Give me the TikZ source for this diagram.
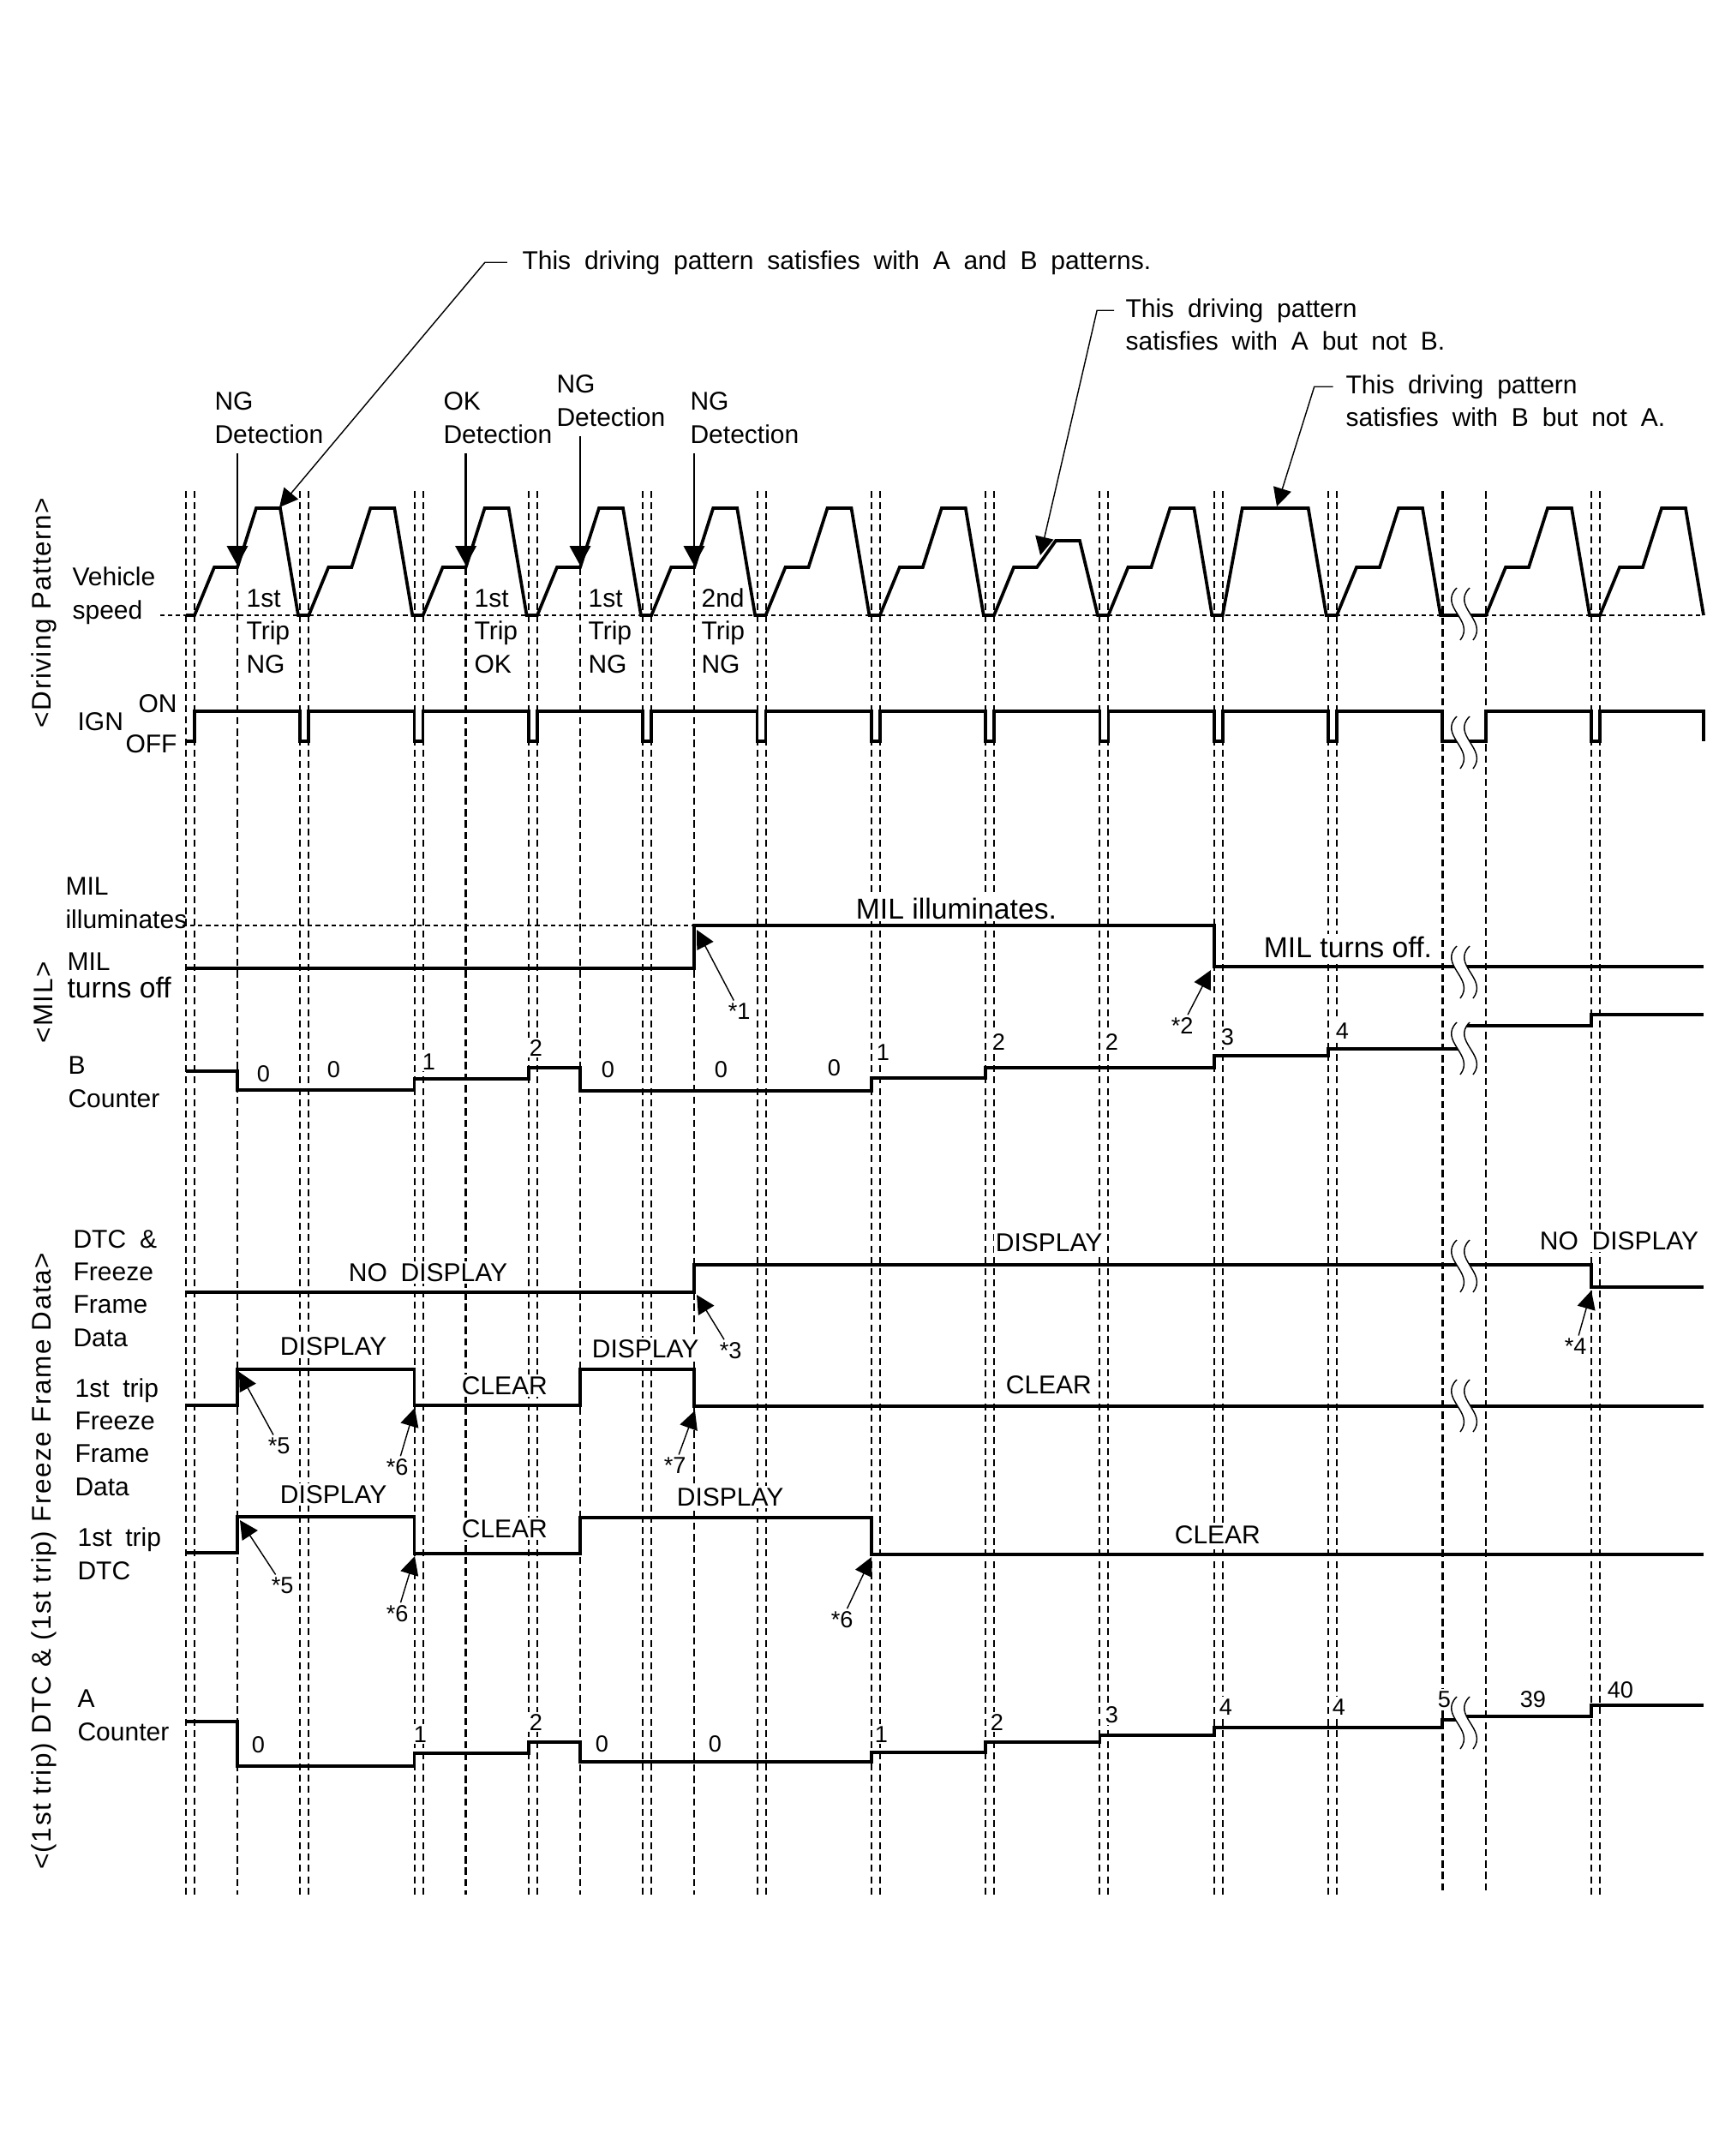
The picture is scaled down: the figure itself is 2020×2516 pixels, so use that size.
\documentclass[tikz,border=0pt]{standalone}
\usepackage{fontspec}
\setmainfont{Liberation Sans}[WordSpace=1.9]
\newfontfamily\milfont{Liberation Sans}
\newfontfamily\grpfont{Liberation Sans}[LetterSpace=5]
\usetikzlibrary{arrows.meta}

\tikzset{
  sig/.style={line width=1.3pt},
  gridline/.style={line width=0.7pt,dash pattern=on 2.8pt off 1.8pt},
  markline/.style={line width=0.85pt,dash pattern=on 3pt off 1.7pt},
  refline/.style={line width=0.6pt,dash pattern=on 1.8pt off 1.4pt},
  lab/.style={anchor=base west,inner sep=0pt,align=left,font=\fontsize{10.5}{13.4}\selectfont},
  tag/.style={lab,inner sep=0.8pt,fill=white},
  num/.style={tag,font=\fontsize{9.5}{11}\selectfont},
  biglab/.style={tag,font=\milfont\fontsize{11.8}{13}\selectfont},
  grp/.style={rotate=90,inner sep=0pt,font=\grpfont\fontsize{11}{12}\selectfont},
  pointer/.style={line width=0.5pt,-{Triangle[length=7.5pt,width=7.5pt]}},
  detect/.style={line width=0.9pt,shorten <=4pt,-{Triangle[length=8pt,width=8.5pt]}},
}

% double wavy break, #1 = left x, #2 = top y
\newcommand\breakmark[2]{%
  \fill[white] (#1,#2) .. controls (#1-22,#2+22) and (#1+22,#2+38) .. (#1+4,#2+61)
    -- (#1+19,#2+61) .. controls (#1+37,#2+38) and (#1-7,#2+22) .. (#1+15,#2) -- cycle;
  \draw[line width=0.5pt] (#1,#2) .. controls (#1-22,#2+22) and (#1+22,#2+38) .. (#1+4,#2+61);
  \draw[line width=0.5pt] (#1+15,#2) .. controls (#1-7,#2+22) and (#1+37,#2+38) .. (#1+19,#2+61);
}

\begin{document}
\begin{tikzpicture}[x=0.35pt,y=-0.35pt]
\useasboundingbox (0,0) rectangle (2020,2516);

% grid of trips
\foreach \k in {0,...,10}{
  \pgfmathsetmacro{\xl}{217+133.3*\k}
  \draw[gridline] (\xl,573) -- (\xl,2211);
  \draw[gridline] (\xl+10,573) -- (\xl+10,2211);
}
\draw[gridline] (1857,573) -- (1857,2211);
\draw[gridline] (1867,573) -- (1867,2211);
\foreach \x in {277,543.6,677,810} \draw[markline] (\x,662) -- (\x,2211);
\foreach \x in {1683.3,1734} \draw[markline] (\x,573) -- (\x,2211);
\draw[refline] (187,718) -- (1988,718);
\draw[refline] (213,1080) -- (810,1080);

% group titles
\node[grp] (g1) at (51,715) {<Driving Pattern>};
\node[grp] (g2) at (51,1170) {<MIL>};
\node[grp] (g3) at (51,1822) {<(1st trip) DTC \& (1st trip) Freeze Frame Data>};

% notes on the driving pattern
\node[lab] (n1) at (609,314) {This driving pattern satisfies with A and B patterns.};
\node[lab] (n2) at (1313,370) {This driving pattern};
\node[lab] (n2b) at (1313,408) {satisfies with A but not B.};
\node[lab] (n3) at (1570,459) {This driving pattern};
\node[lab] (n3b) at (1570,497) {satisfies with B but not A.};
\coordinate (p1) at (326,592);
\coordinate (p2) at (1214,648);
\coordinate (p3) at (1490,591);

% (base of a two-line node = its last line)
\node[lab] (d1) at (250,517) {NG\\Detection};
\node[lab] (d2) at (517,517) {OK\\Detection};
\node[lab] (d3) at (649,497) {NG\\Detection};
\node[lab] (d4) at (805,517) {NG\\Detection};
\coordinate (t1) at (277,660);
\coordinate (t2) at (543.6,660);
\coordinate (t3) at (677,660);
\coordinate (t4) at (810,660);

\node[lab] at (287,785) {1st\\Trip\\NG};
\node[lab] at (553,785) {1st\\Trip\\OK};
\node[lab] at (686,785) {1st\\Trip\\NG};
\node[lab] at (818,785) {2nd\\Trip\\NG};

% row labels
\node[lab] (vs) at (84,722) {Vehicle\\speed};
\node[lab] (on) at (161,831) {ON};
\node[lab] (ign) at (90,852) {IGN};
\node[lab] (off) at (146,878) {OFF};
\node[lab] (mil1) at (76,1083) {MIL\\illuminates};
\node[lab] (mil2) at (78,1132) {MIL};
\node[lab,font=\milfont\fontsize{11.8}{13}\selectfont] (mil3) at (78,1164) {turns off};
\node[lab] (bc) at (79,1292) {B\\Counter};
\node[lab] (dtc) at (85,1571) {DTC \&\\Freeze\\Frame\\Data};
\node[lab] (ffd) at (87,1745) {1st trip\\Freeze\\Frame\\Data};
\node[lab] (fdtc) at (90,1843) {1st trip\\DTC};
\node[lab] (ac) at (90,2031) {A\\Counter};

% texts on the signals
\node[biglab] at (996,1072) {MIL illuminates.};
\node[biglab] at (1472,1117) {MIL turns off.};
\node[tag] at (404,1495) {NO DISPLAY};
\node[tag] at (1159,1460) {DISPLAY};
\node[tag] at (1794,1458) {NO DISPLAY};
\node[tag] at (324,1581) {DISPLAY};
\node[tag] at (536,1627) {CLEAR};
\node[tag] at (688,1584) {DISPLAY};
\node[tag] at (1171,1626) {CLEAR};
\node[tag] at (324,1754) {DISPLAY};
\node[tag] at (536,1794) {CLEAR};
\node[tag] at (787,1757) {DISPLAY};
\node[tag] at (1368,1801) {CLEAR};

\foreach \x/\y/\v in {297/1262/0, 379/1257/0, 490/1248/1, 615/1232/2, 699/1257/0,
  831/1257/0, 963/1255/0, 1020/1237/1, 1155/1225/2, 1287/1225/2, 1422/1219/3, 1556/1212/4}
  {\node[num] at (\x,\y) {\v};}
\foreach \x/\y/\v in {291/2045/0, 480/2033/1, 615/2019/2, 692/2044/0, 824/2044/0,
  1018/2033/1, 1153/2019/2, 1287/2010/3, 1420/2001/4, 1552/2001/4, 1675/1992/5,
  1771/1992/39, 1873/1981/40}
  {\node[num] at (\x,\y) {\v};}

% vehicle speed
\draw[sig] (217,718) -- (227,718)
  \foreach \x/\t/\n in {227/593/360.3, 360.3/593/493.6, 493.6/593/627, 627/593/760.2,
    760.2/593/893.5, 893.5/593/1026.8, 1026.8/593/1160, 1160/631/1293.4, 1293.4/593/1426.7}
  { -- (\x+23,662) -- (\x+50,662) -- (\x+72,\t) -- (\x+100,\t) -- (\x+121,718) -- (\n,718) }
  -- (1449.7,593) -- (1526.7,593) -- (1547.7,718) -- (1560,718)
  \foreach \x/\n in {1560/1734, 1734/1867, 1867/1988}
  { -- (\x+23,662) -- (\x+50,662) -- (\x+72,593) -- (\x+100,593) -- (\x+121,718) -- (\n,718) };

% ignition
\draw[sig] (217,865) -- (227,865) -- (227,830)
  \foreach \k in {1,...,10}
  { -- ({217+133.3*\k},830) -- ({217+133.3*\k},865) -- ({227+133.3*\k},865) -- ({227+133.3*\k},830) }
  -- (1683.3,830) -- (1683.3,865) -- (1734,865) -- (1734,830) -- (1857,830) -- (1857,865)
  -- (1867,865) -- (1867,830) -- (1988,830) -- (1988,865);

% MIL and B counter
\draw[sig] (217,1130) -- (810,1130) -- (810,1080) -- (1416.7,1080) -- (1416.7,1128) -- (1988,1128);
\draw[sig] (217,1250) -- (277,1250) -- (277,1272) -- (483.6,1272) -- (483.6,1259) -- (617,1259)
  -- (617,1246) -- (677,1246) -- (677,1273) -- (1016.8,1273) -- (1016.8,1258) -- (1150,1258)
  -- (1150,1246) -- (1416.7,1246) -- (1416.7,1232) -- (1550,1232) -- (1550,1224) -- (1706,1224);
\draw[sig] (1708,1197) -- (1857,1197) -- (1857,1184) -- (1988,1184);

% DTC, freeze frame data, A counter
\draw[sig] (217,1508) -- (810,1508) -- (810,1476) -- (1857,1476) -- (1857,1502) -- (1988,1502);
\draw[sig] (217,1640) -- (277,1640) -- (277,1598) -- (483.6,1598) -- (483.6,1640) -- (677,1640)
  -- (677,1598) -- (810,1598) -- (810,1641) -- (1988,1641);
\draw[sig] (217,1812) -- (277,1812) -- (277,1770) -- (483.6,1770) -- (483.6,1813) -- (677,1813)
  -- (677,1771) -- (1016.8,1771) -- (1016.8,1814) -- (1988,1814);
\draw[sig] (217,2009) -- (277,2009) -- (277,2061) -- (483.6,2061) -- (483.6,2046) -- (617,2046)
  -- (617,2033) -- (677,2033) -- (677,2056) -- (1016.8,2056) -- (1016.8,2045) -- (1150,2045)
  -- (1150,2033) -- (1283.4,2033) -- (1283.4,2025) -- (1416.7,2025) -- (1416.7,2016)
  -- (1683.3,2016) -- (1683.3,2007) -- (1706,2007);
\draw[sig] (1708,2003) -- (1857,2003) -- (1857,1990) -- (1988,1990);

\foreach \y in {686,836,1104,1193,1447,1610,1980} {\breakmark{1700}{\y}}

% arrows
\draw[pointer] ([xshift=-6pt]n1.west) -- ++(-26,0) -- (p1);
\draw[pointer] ([xshift=-4.5pt]n2.west) -- ++(-20,0) -- (p2);
\draw[pointer] ([xshift=-5pt]n3.west) -- ++(-22,0) -- (p3);
\draw[detect] (d1.south -| t1) -- (t1);
\draw[detect] (d2.south -| t2) -- (t2);
\draw[detect] (d3.south -| t3) -- (t3);
\draw[detect] (d4.south -| t4) -- (t4);

\node[num] (s1) at (847,1189) {*1};
\node[num] (s2) at (1364,1206) {*2};
\node[num] (s3) at (837,1585) {*3};
\node[num] (s4) at (1823,1580) {*4};
\node[num] (s5) at (310,1696) {*5};
\node[num] (s6) at (448,1721) {*6};
\node[num] (s7) at (772,1719) {*7};
\node[num] (s8) at (314,1859) {*5};
\node[num] (s9) at (448,1892) {*6};
\node[num] (s10) at (967,1899) {*6};
\coordinate (m1) at (813,1085);
\coordinate (m2) at (1413,1132);
\coordinate (m3) at (813,1511);
\coordinate (m4) at (1857,1506);
\coordinate (m5) at (279,1601);
\coordinate (m6) at (484,1643);
\coordinate (m7) at (811,1646);
\coordinate (m8) at (280,1774);
\coordinate (m9) at (484,1816);
\coordinate (m10) at (1017,1817);
\foreach \i in {1,...,10} {\draw[pointer] (s\i) -- (m\i);}
\end{tikzpicture}
\end{document}
